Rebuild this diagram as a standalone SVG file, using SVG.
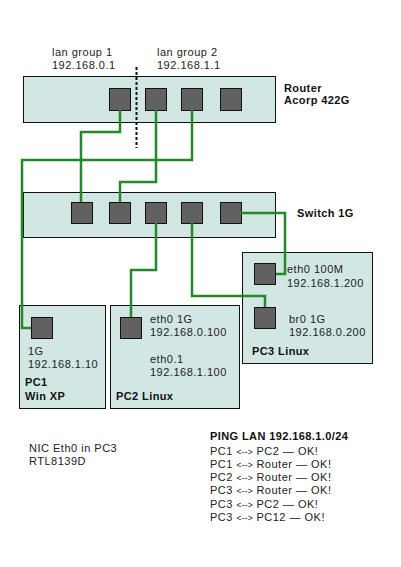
<svg xmlns="http://www.w3.org/2000/svg" width="401" height="567" viewBox="0 0 401 567">
<style>
.box{fill:#d2e7e4;stroke:#111;stroke-width:1}
.port{fill:#616161;stroke:#111;stroke-width:1}
.t{font-family:"Liberation Sans",Arial,sans-serif;font-size:11px;letter-spacing:0.5px;fill:#222}
.b{font-family:"Liberation Sans",Arial,sans-serif;font-size:11px;letter-spacing:0.4px;font-weight:bold;fill:#111}
.s{font-size:8.5px;letter-spacing:0.2px}
.w{fill:none;stroke:#23892a;stroke-width:2.5}
</style>
<rect width="401" height="567" fill="#fff"/>
<g id="labels-lan">
<text class="t" x="52" y="56">lan group 1</text>
<text class="t" x="52" y="68.5">192.168.0.1</text>
<text class="t" x="157" y="56">lan group 2</text>
<text class="t" x="157" y="68.5">192.168.1.1</text>
</g>
<g id="router">
<rect class="box" x="23.5" y="76.5" width="252" height="46"/>
<rect class="port" x="109.5" y="88.5" width="21" height="22"/>
<rect class="port" x="145.5" y="88.5" width="21" height="22"/>
<rect class="port" x="181.5" y="88.5" width="21" height="22"/>
<rect class="port" x="220.5" y="88.5" width="21" height="22"/>
<text class="b" x="284" y="91.5">Router</text>
<text class="b" x="284" y="104">Acorp 422G</text>
</g>
<line id="divider" x1="136.5" y1="67" x2="136.5" y2="148" stroke="#111" stroke-width="2" stroke-dasharray="3,2"/>
<g id="switch">
<rect class="box" x="23.5" y="192.5" width="252" height="45"/>
<rect class="port" x="71.5" y="202.5" width="21" height="21"/>
<rect class="port" x="109.5" y="202.5" width="21" height="21"/>
<rect class="port" x="145.5" y="202.5" width="21" height="21"/>
<rect class="port" x="181.5" y="202.5" width="21" height="21"/>
<rect class="port" x="220.5" y="202.5" width="21" height="21"/>
<text class="b" x="297" y="217">Switch 1G</text>
</g>
<g id="pc3">
<rect class="box" x="242.5" y="252.5" width="130" height="111"/>
<rect class="port" x="254.5" y="263.5" width="21" height="21"/>
<rect class="port" x="254.5" y="307.5" width="21" height="21"/>
<text class="t" x="287" y="273">eth0 100M</text>
<text class="t" x="287" y="287">192.168.1.200</text>
<text class="t" x="289" y="323">br0 1G</text>
<text class="t" x="289" y="336">192.168.0.200</text>
<text class="b" x="252" y="355">PC3 Linux</text>
</g>
<g id="pc1">
<rect class="box" x="19.5" y="305.5" width="86" height="103"/>
<rect class="port" x="31.5" y="317.5" width="21" height="21"/>
<text class="t" x="28" y="355">1G</text>
<text class="t" x="28" y="368">192.168.1.10</text>
<text class="b" x="25" y="386">PC1</text>
<text class="b" x="25" y="400">Win XP</text>
</g>
<g id="pc2">
<rect class="box" x="110.5" y="305.5" width="129" height="103"/>
<rect class="port" x="120.5" y="317.5" width="21" height="21"/>
<text class="t" x="150" y="323">eth0 1G</text>
<text class="t" x="150" y="336">192.168.0.100</text>
<text class="t" x="150" y="363">eth0.1</text>
<text class="t" x="150" y="376">192.168.1.100</text>
<text class="b" x="116" y="400">PC2 Linux</text>
</g>
<g id="connectors">
<path class="w" d="M120,110 V132 H81 V202"/>
<path class="w" d="M156,110 V182 H120 V202"/>
<path class="w" d="M192,110 V160 H22 V328 H31"/>
<path class="w" d="M156,223 V270 H131 V317"/>
<path class="w" d="M192,223 V296 H265 V307"/>
<path class="w" d="M241,213 H285 V274 H276"/>
</g>
<g id="notes">
<text class="t" x="29" y="452">NIC Eth0 in PC3</text>
<text class="t" x="29" y="465">RTL8139D</text>
<text class="b" x="210" y="440">PING LAN 192.168.1.0/24</text>
<text class="t" x="210" y="455">PC1 <tspan class="s">&lt;--&gt;</tspan> PC2 — OK!</text>
<text class="t" x="210" y="468">PC1 <tspan class="s">&lt;--&gt;</tspan> Router — OK!</text>
<text class="t" x="210" y="481">PC2 <tspan class="s">&lt;--&gt;</tspan> Router — OK!</text>
<text class="t" x="210" y="494">PC3 <tspan class="s">&lt;--&gt;</tspan> Router — OK!</text>
<text class="t" x="210" y="508">PC3 <tspan class="s">&lt;--&gt;</tspan> PC2 — OK!</text>
<text class="t" x="210" y="521">PC3 <tspan class="s">&lt;--&gt;</tspan> PC12 — OK!</text>
</g>
</svg>
